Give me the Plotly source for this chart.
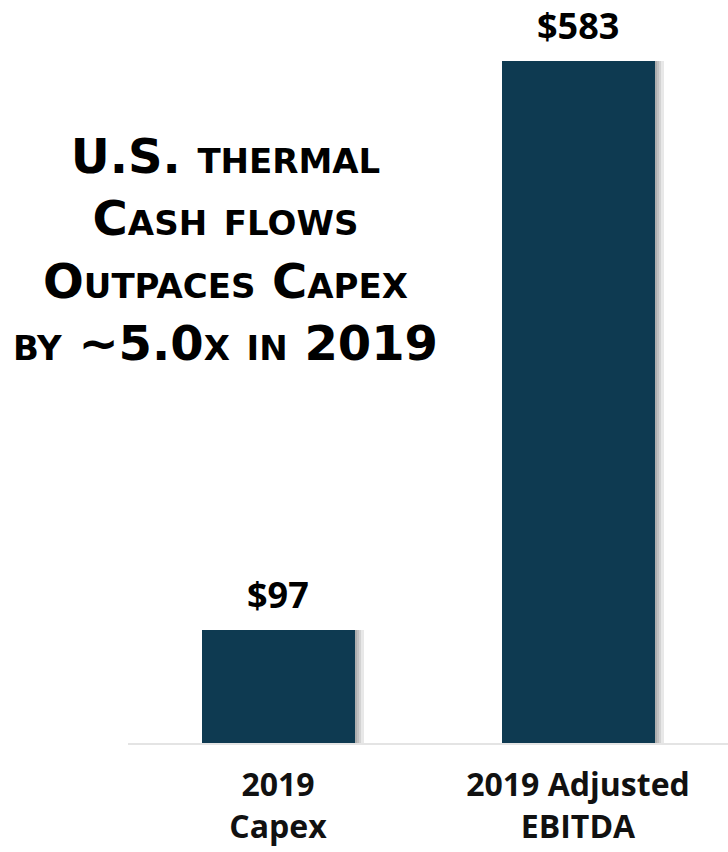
import plotly.graph_objects as go

# Data
categories = ["2019 Capex", "2019 Adjusted EBITDA"]
tick_labels = ["2019<br>Capex", "2019 Adjusted<br>EBITDA"]
values = [97, 583]
value_labels = ["$97", "$583"]

BAR_COLOR = "#0e3a51"
BAR_WIDTH = 0.51
FONT = "Open Sans"
HEAD_FONT = "DejaVu Sans"

fig = go.Figure()

# soft drop shadow: a few translucent copies of the bars nudged to the right
for k in range(1, 5):
    fig.add_trace(go.Bar(
        x=categories, y=values,
        width=BAR_WIDTH, offset=-BAR_WIDTH / 2 + k * 0.0075,
        marker=dict(color="rgba(0,0,0,0.09)", line=dict(width=0)),
        hoverinfo="skip", showlegend=False,
    ))

fig.add_trace(go.Bar(
    x=categories, y=values,
    width=BAR_WIDTH,
    marker=dict(color=BAR_COLOR, line=dict(width=0)),
    showlegend=False,
))

# value labels above each bar
for cat, val, lab in zip(categories, values, value_labels):
    fig.add_annotation(
        x=cat, y=val, text=lab, showarrow=False,
        xanchor="center", yanchor="bottom", yshift=9,
        font=dict(family=FONT, size=36, color="#000000", weight="bold"),
    )

# headline
fig.add_annotation(
    xref="paper", yref="paper", x=0.1617, y=0.6645,
    text="U.S. thermal<br>Cash flows<br>Outpaces Capex<br>by ~5.0x in 2019",
    showarrow=False, xanchor="center", yanchor="middle", align="center",
    font=dict(family=HEAD_FONT, size=48, color="#000000", weight="bold",
              variant="small-caps"),
)

fig.update_layout(
    width=728, height=852,
    margin=dict(l=128, r=0, t=0, b=109),
    paper_bgcolor="white", plot_bgcolor="white",
    barmode="overlay", bargap=0,
    xaxis=dict(
        type="category", range=[-0.5, 1.5],
        tickmode="array", tickvals=categories, ticktext=tick_labels,
        tickfont=dict(family=FONT, size=32, color="#111111", weight="bold"),
        ticklabelstandoff=13,
        showline=True, linecolor="#e4e4e4", linewidth=2,
        showgrid=False, ticks="", zeroline=False,
    ),
    yaxis=dict(
        range=[0, 635.2], visible=False, showgrid=False, zeroline=False,
    ),
)

fig.write_html("out.html")
